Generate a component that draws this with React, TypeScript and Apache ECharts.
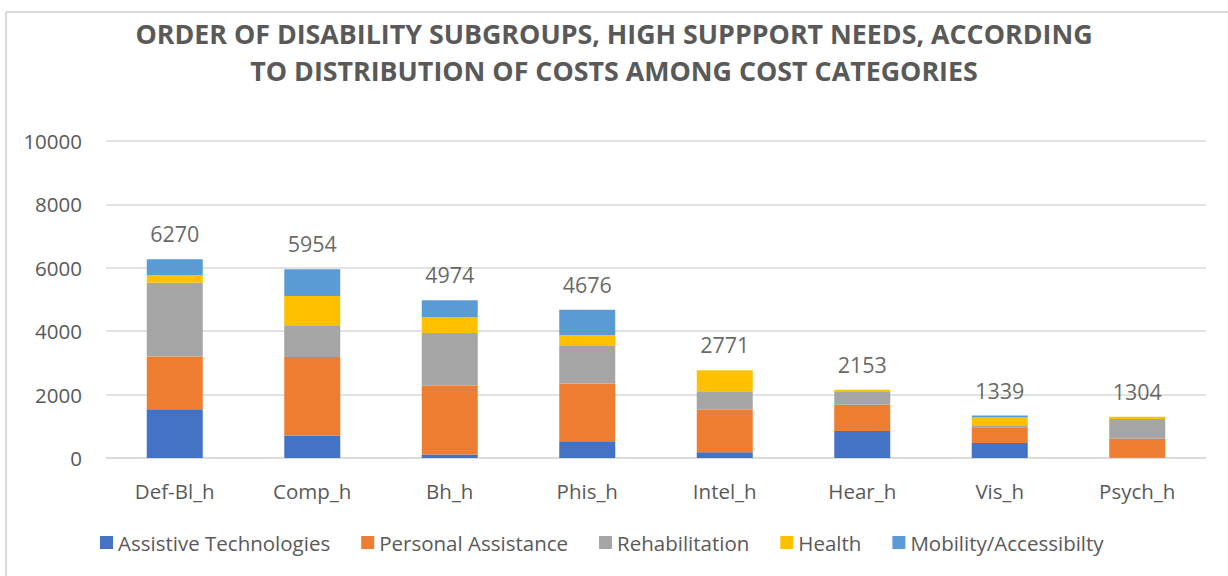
import React, { useEffect, useRef } from "react";
import * as echarts from "echarts";

const categories = ["Def-Bl_h", "Comp_h", "Bh_h", "Phis_h", "Intel_h", "Hear_h", "Vis_h", "Psych_h"];
const assistiveTech = [1540, 700, 110, 530, 180, 850, 470, 10];
const personalAssist = [1660, 2490, 2170, 1820, 1345, 830, 500, 600];
const rehabilitation = [2330, 1000, 1660, 1180, 580, 400, 60, 620];
const health = [240, 920, 510, 340, 666, 73, 250, 74];
const mobility = [500, 844, 524, 806, 0, 0, 59, 0];
const totals = [6270, 5954, 4974, 4676, 2771, 2153, 1339, 1304];
const yTicks = [0, 2000, 4000, 6000, 8000, 10000];

const seriesDefs = [
  { name: "Assistive Technologies", data: assistiveTech, color: "#4472C4" },
  { name: "Personal Assistance", data: personalAssist, color: "#ED7D31" },
  { name: "Rehabilitation", data: rehabilitation, color: "#A5A5A5" },
  { name: "Health", data: health, color: "#FFC000" },
  { name: "Mobility/Accessibilty", data: mobility, color: "#5B9BD5" },
];

const FONT = "Open Sans";

export default function App() {
  const ref = useRef<HTMLDivElement>(null);
  useEffect(() => {
    if (!ref.current) return;
    const chart = echarts.init(ref.current, null, { renderer: "svg" });
    chart.setOption({
      animation: false,
      backgroundColor: "#ffffff",
      title: {
        text: "ORDER OF DISABILITY SUBGROUPS, HIGH SUPPPORT NEEDS, ACCORDING\nTO DISTRIBUTION OF COSTS AMONG COST CATEGORIES",
        left: "center",
        top: 10,
        textStyle: {
          fontFamily: FONT,
          fontWeight: "bold",
          fontSize: 26.8,
          color: "#595959",
          lineHeight: 37,
          align: "center",
        },
      },
      legend: {
        data: seriesDefs.map((s) => s.name),
        left: 95,
        top: 527,
        itemWidth: 13,
        itemHeight: 13,
        itemGap: 31,
        icon: "rect",
        textStyle: { fontFamily: FONT, fontSize: 20.5, color: "#595959" },
      },
      grid: { left: 106, right: 22, top: 141, bottom: 118, containLabel: false },
      xAxis: {
        type: "category",
        data: categories,
        axisLine: { lineStyle: { color: "#d9d9d9", width: 1.5 } },
        axisTick: { show: false },
        axisLabel: { fontFamily: FONT, fontSize: 20.5, color: "#595959", margin: 22 },
      },
      yAxis: {
        type: "value",
        min: yTicks[0],
        max: yTicks[yTicks.length - 1],
        interval: 2000,
        axisLine: { show: false },
        axisTick: { show: false },
        splitLine: { lineStyle: { color: "#d9d9d9", width: 1.5 } },
        axisLabel: {
          fontFamily: FONT,
          fontSize: 20.5,
          color: "#595959",
          margin: 24,
          formatter: (v: number) => String(v),
        },
      },
      series: [
        ...seriesDefs.map((s) => ({
          name: s.name,
          type: "bar",
          stack: "total",
          data: s.data,
          barWidth: 56,
          itemStyle: { color: s.color },
        })),
        {
          name: "Total",
          type: "scatter",
          data: totals,
          symbolSize: 1,
          itemStyle: { color: "rgba(0,0,0,0)" },
          label: {
            show: true,
            position: "top",
            distance: 14,
            fontFamily: FONT,
            fontSize: 21.5,
            color: "#404040",
          },
          z: 10,
        },
      ],
      graphic: [
        { type: "line", shape: { x1: 6, y1: 12, x2: 1228, y2: 12 }, style: { stroke: "#d9d9d9", lineWidth: 2 } },
        { type: "line", shape: { x1: 6, y1: 12, x2: 6, y2: 576 }, style: { stroke: "#d9d9d9", lineWidth: 2 } },
      ],
    });
    return () => chart.dispose();
  }, []);
  return (
    <div
      ref={ref}
      style={{ position: "absolute", left: 0, top: 0, width: 1228, height: 576 }}
    />
  );
}
